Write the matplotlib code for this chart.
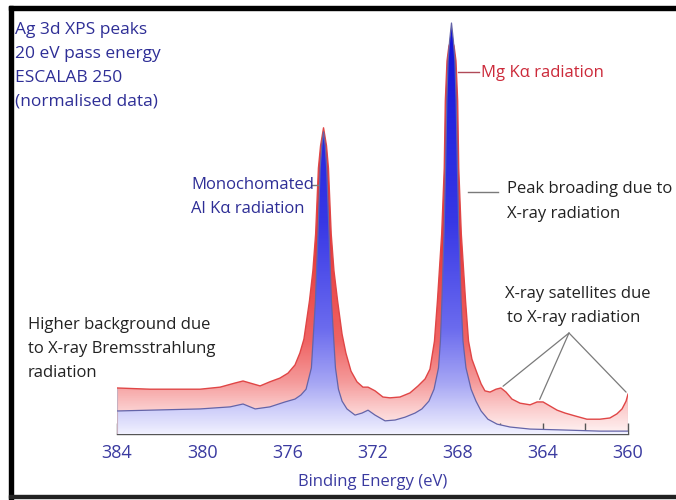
import numpy as np
import matplotlib
matplotlib.use('Agg')
import matplotlib.pyplot as plt
from matplotlib.colors import LinearSegmentedColormap
from matplotlib.patches import Rectangle
from matplotlib.lines import Line2D

# ---------------- data ----------------
mgka_energy = [384.00, 382.45, 380.10, 379.16, 378.46, 378.08, 377.75, 377.28, 376.82, 376.35,
               375.97, 375.64, 375.41, 375.22, 374.96, 374.80, 374.67, 374.54, 374.44, 374.30,
               374.16, 374.07, 373.94, 373.81, 373.64, 373.43, 373.25, 373.01, 372.73, 372.45,
               372.21, 371.88, 371.51, 371.18, 370.71, 370.24, 369.86, 369.53, 369.30, 369.09,
               368.95, 368.75, 368.63, 368.58, 368.50, 368.41, 368.29, 368.17, 368.08, 368.00,
               367.95, 367.83, 367.63, 367.49, 367.33, 367.09, 366.90, 366.72,
               366.48, 366.20, 365.97, 365.73, 365.45, 365.07, 364.60, 364.27, 363.99, 363.66,
               363.33, 362.96, 362.49, 361.93, 361.32, 360.85, 360.52, 360.28, 360.09, 360.00]
mgka_intensity = [11.2, 10.9, 10.9, 11.4, 12.4, 12.9, 12.4, 11.7, 12.7, 13.6,
                  14.8, 16.8, 19.7, 23.1, 32.4, 39.7, 48.7, 64.7, 70.1, 74.5,
                  70.1, 64.7, 48.7, 39.7, 32.4, 24.3, 19.7, 15.3, 12.7, 11.4,
                  11.4, 10.5, 9.0, 8.8, 9.0, 10.0, 11.7, 13.4, 15.8, 22.6,
                  32.4, 48.7, 64.7, 81.0, 90.8, 94.4, 96.1, 94.4, 90.8, 81.0,
                  64.7, 48.7, 32.4, 22.6, 18.2, 14.8, 12.2, 10.5,
                  10.2, 10.9, 11.2, 10.2, 8.5, 7.5, 7.1, 7.8, 7.8, 6.8,
                  5.8, 5.1, 4.4, 3.6, 3.6, 3.9, 4.9, 6.1, 8.0, 9.7]

alka_energy = [384.00, 382.45, 380.10, 378.69, 378.08, 377.51, 376.82, 376.11, 375.64, 375.36,
               375.12, 374.87, 374.68, 374.56, 374.46, 374.38, 374.30, 374.22, 374.15, 374.04,
               373.93, 373.74, 373.60, 373.43, 373.20, 372.82, 372.49, 372.21, 371.88,
               371.41, 370.94, 370.47, 370.00, 369.68, 369.35, 369.11, 368.90, 368.81, 368.74,
               368.64, 368.57, 368.51, 368.45, 368.38, 368.29, 368.20, 368.13, 368.07, 368.01,
               367.94, 367.84, 367.75, 367.61, 367.37, 367.14, 366.90, 366.58, 366.15, 365.54,
               364.60, 363.19, 361.32, 360.00]
alka_intensity = [5.6, 5.8, 6.1, 6.6, 7.3, 6.1, 6.6, 7.8, 8.5, 9.5,
                  10.9, 16.1, 32.4, 48.7, 64.7, 70.1, 73.5, 70.1, 64.7, 48.7,
                  32.4, 16.1, 10.9, 8.0, 6.1, 4.6, 5.1, 5.8, 4.6,
                  3.2, 3.4, 4.1, 5.1, 6.1, 8.0, 10.9, 16.1, 22.6, 32.4,
                  48.7, 64.7, 81.0, 90.8, 95.6, 100.0, 95.6, 90.8, 81.0, 64.7,
                  48.7, 32.4, 22.6, 16.1, 10.9, 8.0, 5.6, 3.6, 2.4, 1.7,
                  1.2, 1.0, 0.7, 0.7]

major_ticks = [384, 380, 376, 372, 368, 364, 360]
minor_ticks = [382, 378, 374, 370, 366, 362]
satellite_energy = [365.97, 364.20, 360.00]

info_lines = ["Ag 3d XPS peaks", "20 eV pass energy", "ESCALAB 250", "(normalised data)"]
background_lines = ["Higher background due", "to X-ray Bremsstrahlung", "radiation"]
xlabel_text = "Binding Energy (eV)"

# ---------------- figure ----------------
W, H = 676, 500
plt.rcParams['font.family'] = ['Open Sans', 'DejaVu Sans']
fig = plt.figure(figsize=(W / 100, H / 100), dpi=100)
fig.patch.set_facecolor('white')


def fxy(x, y):
    return x / W, 1 - y / H


base_px, top_px = 434, 12
ax = fig.add_axes([117 / W, 1 - base_px / H, (628 - 117) / W, (base_px - top_px) / H])
ax.patch.set_alpha(0)
ymax = (base_px - top_px) / 4.11

red_cmap = LinearSegmentedColormap.from_list(
    'red', [(0, '#fff3f3'), (0.06, '#fbcccc'), (0.12, '#f59c9c'), (0.22, '#ef6464'),
            (0.45, '#e83a3a'), (1, '#dc2020')])
blue_cmap = LinearSegmentedColormap.from_list(
    'blue', [(0, '#f0f0ff'), (0.05, '#d2d2fa'), (0.12, '#a6a6f4'), (0.25, '#6b6bee'),
             (0.5, '#3838e6'), (1, '#1010d6')])
grad = np.linspace(0, 1, 512).reshape(-1, 1)

for en, it, cmap, lc, lw, z in [(mgka_energy, mgka_intensity, red_cmap, '#e04646', 1.0, 1),
                                (alka_energy, alka_intensity, blue_cmap, '#6464a8', 0.9, 3)]:
    poly = ax.fill_between(en, it, 0, facecolor='none', edgecolor='none', zorder=z)
    im = ax.imshow(grad, extent=[384, 360, 0, ymax], origin='lower', aspect='auto',
                   cmap=cmap, zorder=z, interpolation='bilinear')
    im.set_clip_path(poly.get_paths()[0], ax.transData)
    ax.plot(en, it, color=lc, lw=lw, zorder=z + 0.5, solid_joinstyle='round')
    ax.vlines([en[0], en[-1]], 0, [it[0], it[-1]], color='#c8b0c0', lw=0.8, zorder=z + 0.4)

ax.set_xlim(384, 360)
ax.set_ylim(0, ymax)
for s in ['top', 'left', 'right']:
    ax.spines[s].set_visible(False)
ax.spines['bottom'].set_color('#555555')
ax.spines['bottom'].set_linewidth(1.0)
ax.set_yticks([])
ax.set_xticks(major_ticks)
ax.set_xticks(minor_ticks, minor=True)
ax.set_xticklabels([str(t) for t in major_ticks])
ax.tick_params(axis='x', which='both', direction='in', length=8, width=1, color='#555555')
ax.tick_params(axis='x', which='major', labelsize=13, labelcolor='#3a3aa0', pad=7)
ax.set_xlabel(xlabel_text, fontsize=12, color='#3a3aa0', labelpad=9)

# ---------------- annotations ----------------
blue_txt = '#2e2e96'
red_txt = '#cc2a3a'
dark_txt = '#222222'
lead = '#7a7a7a'
fs = 12

for i, line in enumerate(info_lines):
    fig.text(*fxy(15, 30 + 23.8 * i), line, ha='left', va='center', fontsize=12.5, color=blue_txt)

fig.text(*fxy(481, 73), "Mg Kα radiation", ha='left', va='center', fontsize=fs, color=red_txt)
fig.text(*fxy(191, 185), "Monochomated", ha='left', va='center', fontsize=fs, color=blue_txt)
fig.text(*fxy(191, 209), "Al Kα radiation", ha='left', va='center', fontsize=fs, color=blue_txt)
fig.text(*fxy(507, 189), "Peak broading due to", ha='left', va='center', fontsize=fs, color=dark_txt)
fig.text(*fxy(507, 214), "X-ray radiation", ha='left', va='center', fontsize=fs, color=dark_txt)
fig.text(*fxy(505, 294), "X-ray satellites due", ha='left', va='center', fontsize=fs, color=dark_txt)
fig.text(*fxy(507, 318), "to X-ray radiation", ha='left', va='center', fontsize=fs, color=dark_txt)
for i, line in enumerate(background_lines):
    fig.text(*fxy(28, 325 + 24 * i), line, ha='left', va='center', fontsize=fs, color=dark_txt)

for (x1, y1, x2, y2, c) in [(458, 72, 479, 72, '#b04a58'), (311, 185, 318, 185, lead),
                            (468, 192, 498, 192, lead)]:
    fig.add_artist(Line2D([x1 / W, x2 / W], [1 - y1 / H, 1 - y2 / H], transform=fig.transFigure,
                          color=c, lw=1.0))

e_asc = np.array(mgka_energy)[::-1]
i_asc = np.array(mgka_intensity)[::-1]
for se in satellite_energy:
    si = float(np.interp(se, e_asc, i_asc))
    ax.annotate('', xy=(se, si), xycoords='data', xytext=(569, H - 333), textcoords='figure pixels',
                arrowprops=dict(arrowstyle='-', color=lead, lw=0.9, shrinkA=0, shrinkB=2),
                annotation_clip=False, zorder=6)

# ---------------- frame ----------------
fig.add_artist(Rectangle((9 / W, 0), 4 / W, 1 - 6 / H, transform=fig.transFigure, color='black'))
fig.add_artist(Rectangle((9 / W, 1 - 10 / H), 1 - 9 / W, 4 / H, transform=fig.transFigure, color='black'))
fig.add_artist(Rectangle((9 / W, 2 / H), 1 - 9 / W, 3 / H, transform=fig.transFigure, color='#222222'))

fig.savefig('out.png', dpi=100, facecolor='white')
